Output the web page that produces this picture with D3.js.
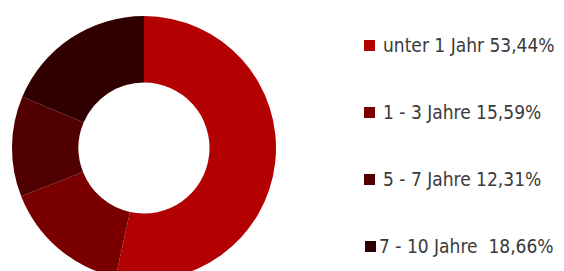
<!DOCTYPE html>
<meta charset="utf-8">
<script src="https://d3js.org/d3.v7.min.js"></script>
<style>
  body { margin: 0; background: #fff; }
</style>
<div id="my_dataviz"></div>
<script>

// data
var categories = ["unter 1 Jahr", "1 - 3 Jahre", "5 - 7 Jahre", "7 - 10 Jahre"];
var values = [53.44, 15.59, 12.31, 18.66];
var labels = ["unter 1 Jahr 53,44%", "1 - 3 Jahre 15,59%", "5 - 7 Jahre 12,31%", "7 - 10 Jahre  18,66%"];
var colors = ["#b30000", "#7a0000", "#500000", "#300000"];

var width = 564, height = 271;

var svg = d3.select("#my_dataviz")
  .append("svg")
    .attr("width", width)
    .attr("height", height);

// donut
var g = svg.append("g")
    .attr("transform", "translate(144,148)");

var pie = d3.pie().sort(null).value(function(d) { return d; });
var arc = d3.arc().innerRadius(65.5).outerRadius(132);

g.selectAll("path")
  .data(pie(values))
  .enter()
  .append("path")
    .attr("d", arc)
    .attr("fill", function(d, i) { return colors[i]; });

// legend
var legendY = d3.scalePoint()
    .domain(categories)
    .range([52, 253]);

var item = svg.selectAll(".legend")
  .data(categories)
  .enter()
  .append("g")
    .attr("class", "legend")
    .attr("transform", function(d) { return "translate(0," + legendY(d) + ")"; });

item.append("rect")
    .attr("x", function(d, i) { return i == 3 ? 365 : 364; })
    .attr("y", -12)
    .attr("width", 11)
    .attr("height", 11)
    .attr("fill", function(d, i) { return colors[i]; });

item.append("text")
    .attr("x", function(d, i) { return i == 3 ? 379 : 383; })
    .attr("y", 0)
    .style("white-space", "pre")
    .style("font-family", "'DejaVu Sans Condensed', sans-serif")
    .style("font-size", "19px")
    .style("fill", "#3a3a3a")
    .text(function(d, i) { return labels[i]; });

</script>
